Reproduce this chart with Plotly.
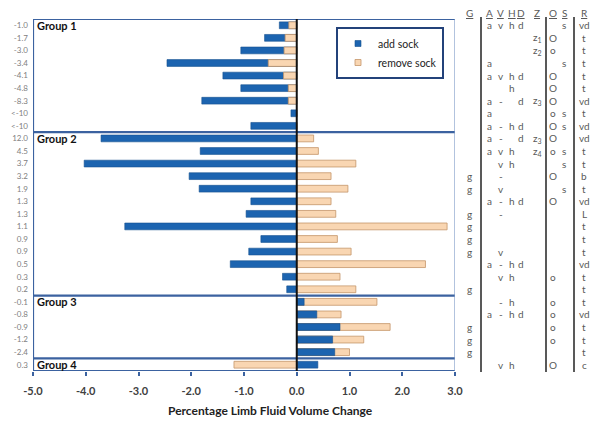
import plotly.graph_objects as go

# ---------------- data ----------------
row_labels = ["-1.0", "-1.7", "-3.0", "-3.4", "-4.1", "-4.8", "-8.3", "<-10", "<-10",
              "12.0", "4.5", "3.7", "3.2", "1.9", "1.3", "1.3", "1.1", "0.9", "0.9", "0.5", "0.3", "0.2",
              "-0.1", "-0.8", "-0.9", "-1.2", "-2.4",
              "0.3"]
add_sock = [-0.33, -0.61, -1.06, -2.46, -1.40, -1.06, -1.80, -0.11, -0.87,
            -3.71, -1.83, -4.03, -2.04, -1.85, -0.87, -0.96, -3.26, -0.68, -0.91, -1.26, -0.27, -0.19,
            0.14, 0.38, 0.82, 0.68, 0.72,
            0.40]
remove_sock = [-0.15, -0.22, -0.24, -0.54, -0.25, -0.16, -0.16, 0.0, 0.0,
               0.32, 0.41, 1.12, 0.65, 0.97, 0.65, 0.74, 2.85, 0.77, 1.03, 2.44, 0.82, 1.12,
               1.52, 0.84, 1.77, 1.27, 1.00,
               -1.19]
group_names = ["Group 1", "Group 2", "Group 3", "Group 4"]
group_sizes = [9, 13, 5, 1]
x_ticks = [-5, -4, -3, -2, -1, 0, 1, 2, 3]

col_G = ["", "", "", "", "", "", "", "", "",
         "", "", "", "g", "g", "", "g", "g", "g", "g", "", "", "g",
         "", "", "g", "g", "g", ""]
col_A = ["a", "", "", "a", "a", "", "a", "a", "a",
         "a", "a", "", "", "", "a", "", "", "", "", "a", "", "",
         "", "a", "", "", "", ""]
col_V = ["v", "", "", "", "v", "", "-", "", "-",
         "-", "v", "v", "-", "v", "-", "-", "", "", "v", "-", "v", "",
         "-", "-", "", "", "", "v"]
col_H = ["h", "", "", "", "h", "h", "", "", "h",
         "", "h", "h", "", "", "h", "", "", "", "", "h", "h", "",
         "h", "h", "", "", "", "h"]
col_D = ["d", "", "", "", "d", "", "d", "", "d",
         "d", "", "", "", "", "d", "", "", "", "", "d", "", "",
         "", "d", "", "", "", ""]
col_Z = ["", "z<sub>1</sub>", "z<sub>2</sub>", "", "", "", "z<sub>3</sub>", "", "",
         "z<sub>3</sub>", "z<sub>4</sub>", "", "", "", "", "", "", "", "", "", "", "",
         "", "", "", "", "", ""]
col_O = ["", "O", "o", "", "O", "O", "O", "o", "O",
         "O", "o", "", "O", "", "O", "", "", "", "", "", "o", "",
         "o", "o", "o", "o", "", "O"]
col_S = ["s", "", "", "s", "", "", "", "s", "s",
         "", "s", "s", "", "s", "", "", "", "", "", "", "", "",
         "", "", "", "", "", ""]
col_R = ["vd", "t", "t", "t", "t", "t", "vd", "t", "vd",
         "vd", "t", "t", "b", "t", "vd", "L", "t", "t", "t", "vd", "t", "t",
         "t", "vd", "t", "t", "t", "c"]
headers = ["G", "A", "V", "H", "D", "Z", "O", "S", "R"]

# ---------------- style / layout constants ----------------
W, H = 600, 423
L, R, T, B = 33, 145, 19, 52
PW = W - L - R
PH = H - T - B
BLUE = "#1C64B0"
PEACH = "#F9D6B2"
FRAME = "#3B62A0"
GRAY = "#595959"
FONT = "Lato, Open Sans, Arial, sans-serif"

def px_x(px):
    return (px - L) / PW

def px_y(py):
    return (H - B - py) / PH

n = len(row_labels)
ys = list(range(n))

fig = go.Figure()
fig.add_trace(go.Bar(x=add_sock, y=ys, orientation="h", name="add sock", showlegend=False,
                     marker=dict(color=BLUE, line=dict(color="#15508F", width=0.6))))
fig.add_trace(go.Bar(x=remove_sock, y=ys, orientation="h", name="remove sock", showlegend=False,
                     marker=dict(color=PEACH, line=dict(color="#C4956A", width=0.8))))
# redraw add-sock bars on top where they are shorter than remove-sock bars
front = [a if abs(a) < abs(r) and a * r > 0 else None for a, r in zip(add_sock, remove_sock)]
fig.add_trace(go.Bar(x=front, y=ys, orientation="h", showlegend=False,
                     marker=dict(color=BLUE, line=dict(color="#15508F", width=0.6))))
# legend entries with small square symbols
fig.add_trace(go.Scatter(x=[None], y=[None], mode="markers", name="add sock",
                         marker=dict(symbol="square", size=6, color=BLUE,
                                     line=dict(color="#15508F", width=0.6))))
fig.add_trace(go.Scatter(x=[None], y=[None], mode="markers", name="remove sock",
                         marker=dict(symbol="square", size=6, color=PEACH,
                                     line=dict(color="#C4956A", width=0.8))))

# group frame lines
shapes = []
bounds = [-0.5]
for s in group_sizes:
    bounds.append(bounds[-1] + s)
for b in bounds:
    shapes.append(dict(type="line", xref="x", yref="y", x0=-5, x1=3, y0=b, y1=b,
                       line=dict(color=FRAME, width=2.2)))
shapes.append(dict(type="line", xref="x", yref="y", x0=-5, x1=-5, y0=-0.5, y1=n - 0.5,
                   line=dict(color=FRAME, width=2.2)))
shapes.append(dict(type="line", xref="x", yref="y", x0=3, x1=3, y0=-0.5, y1=n - 0.5,
                   line=dict(color="#7F9CC8", width=1.2)))
shapes.append(dict(type="line", xref="x", yref="y", x0=0, x1=0, y0=-0.5, y1=n - 0.5,
                   line=dict(color="#111111", width=2)))
# table separator lines
for sx in [481, 546, 574]:
    shapes.append(dict(type="line", xref="paper", yref="paper", x0=px_x(sx), x1=px_x(sx),
                       y0=px_y(17), y1=px_y(372), line=dict(color=GRAY, width=2)))

annotations = []
start = 0
for g, s in zip(group_names, group_sizes):
    annotations.append(dict(text="<b>" + g + "</b>", xref="x", yref="y", x=-5, y=start,
                            xanchor="left", yanchor="middle", xshift=2, showarrow=False,
                            font=dict(family=FONT, size=11, color="#111111")))
    start += s

col_px = [469, 490, 501, 512, 521, 537, 553, 564, 584]
cols = [col_G, col_A, col_V, col_H, col_D, col_Z, col_O, col_S, col_R]
for hx, hd in zip(col_px, headers):
    annotations.append(dict(text="<u>" + hd + "</u>", xref="paper", yref="paper", x=px_x(hx),
                            y=px_y(13), xanchor="center", yanchor="middle", showarrow=False,
                            font=dict(family=FONT, size=10, color=GRAY)))
for cx, col in zip(col_px, cols):
    for i, t in enumerate(col):
        if t:
            annotations.append(dict(text=t, xref="paper", yref="y", x=px_x(cx), y=i,
                                    xanchor="center", yanchor="middle", showarrow=False,
                                    font=dict(family=FONT, size=10, color=GRAY)))

annotations.append(dict(text="<b>Percentage Limb Fluid Volume Change</b>", xref="paper", yref="paper",
                        x=px_x(270), y=px_y(410), xanchor="center", yanchor="middle", showarrow=False,
                        font=dict(family=FONT, size=12, color="#222222")))

fig.update_layout(
    width=W, height=H, margin=dict(l=L, r=R, t=T, b=B, autoexpand=False),
    paper_bgcolor="white", plot_bgcolor="white",
    barmode="overlay", bargap=0.46,
    shapes=shapes, annotations=annotations,
    legend=dict(x=px_x(336), y=px_y(27), xanchor="left", yanchor="top",
                bordercolor="#23427A", borderwidth=2, bgcolor="white",
                font=dict(family=FONT, size=10.5, color="#222222"),
                itemwidth=30, tracegroupgap=0),
    xaxis=dict(range=[-5, 3], tickvals=x_ticks,
               ticktext=["<b>%.1f</b>" % v for v in x_ticks],
               ticks="outside", ticklen=4, tickwidth=1.5, tickcolor=FRAME,
               showgrid=False, zeroline=False, showline=False, automargin=False,
               tickfont=dict(family=FONT, size=11, color="#404040"), ticklabelstandoff=6),
    yaxis=dict(range=[n - 0.5, -0.5], tickvals=ys, ticktext=row_labels, automargin=False,
               showgrid=False, zeroline=False, showline=False, ticks="",
               tickfont=dict(family=FONT, size=8, color="#808080"), ticklabelstandoff=4),
    font=dict(family=FONT),
)

fig.write_html("out.html", config={"displayModeBar": False},
               post_script="document.body.style.margin='0';document.body.style.padding='0';")
